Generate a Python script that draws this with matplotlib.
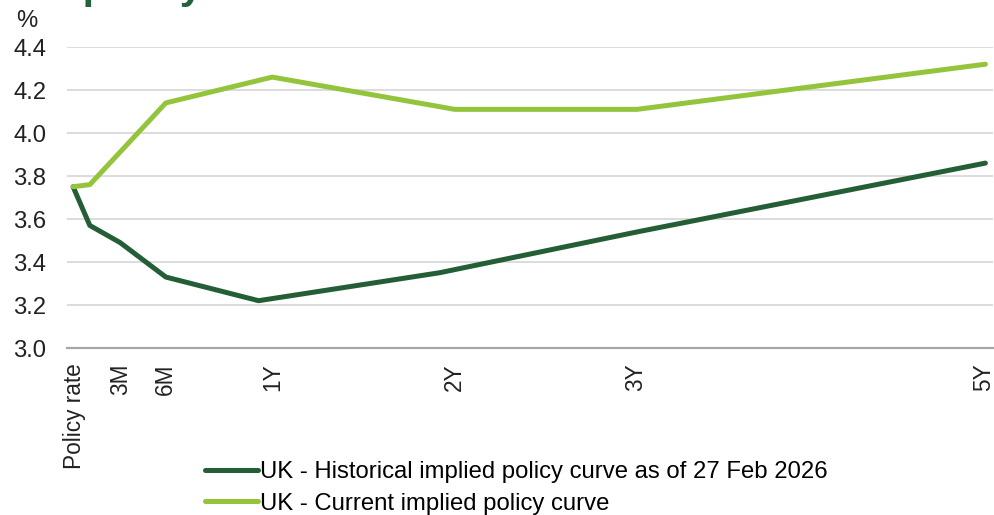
import matplotlib
matplotlib.use('Agg')
import matplotlib.pyplot as plt

plt.rcParams['font.family'] = ['Liberation Sans', 'DejaVu Sans']

# x in months from today
hist_x = [0, 1.1, 3.1, 6.1, 12.2, 24.1, 37.1, 60]
hist_y = [3.75, 3.57, 3.49, 3.33, 3.22, 3.35, 3.54, 3.86]

curr_x = [0, 1.1, 6.1, 13.1, 25.1, 37.1, 60]
curr_y = [3.75, 3.76, 4.14, 4.26, 4.11, 4.11, 4.32]

tick_pos = [0.1, 3.1, 6.1, 13.1, 25.1, 37.0, 59.9]
tick_labels = ['Policy rate', '3M', '6M', '1Y', '2Y', '3Y', '5Y']
y_ticks = [3.0, 3.2, 3.4, 3.6, 3.8, 4.0, 4.2, 4.4]

dark = '#245E37'
light = '#94C43B'
fs = 17.2

fig = plt.figure(figsize=(9.95, 5.15), dpi=100)
ax = fig.add_axes([67/995, 1-348/515, 926/995, 301/515])

l1, = ax.plot(hist_x, hist_y, color=dark, lw=3.6, solid_capstyle='round', zorder=3,
              label='UK - Historical implied policy curve as of 27 Feb 2026')
l2, = ax.plot(curr_x, curr_y, color=light, lw=3.6, solid_capstyle='round', zorder=3,
              label='UK - Current implied policy curve')

ax.set_ylim(3.0, 4.4)
ax.set_xlim(-0.4, 60.5)
ax.set_yticks(y_ticks)
ax.set_yticklabels(['%.1f' % v for v in y_ticks])
ax.set_xticks(tick_pos)
ax.set_xticklabels(tick_labels, rotation=90, va='top', ha='center')

ax.tick_params(axis='y', length=0, pad=15, labelsize=fs, labelcolor='#222222')
ax.tick_params(axis='x', length=0, pad=11, labelsize=16.3, labelcolor='#222222')

ax.grid(axis='y', color='#D9D9D9', lw=1.3, zorder=0)
ax.set_axisbelow(True)
for s in ['top', 'right', 'left']:
    ax.spines[s].set_visible(False)
ax.spines['bottom'].set_color('#A6A6A6')
ax.spines['bottom'].set_linewidth(1.6)
ax.spines['bottom'].set_zorder(4)

# title cut off at the top edge
fig.text(11/995, 1 + 2/515, 'UK policy rate', fontsize=30, fontweight='bold',
         color='#22613A', ha='left', va='baseline')
fig.text(16/995, 1-21/515, '%', fontsize=fs, color='#222222', ha='left', va='center')

fig.legend(handles=[l1, l2], loc='upper left', bbox_to_anchor=(205/995, 1-461/515),
           frameon=False, fontsize=fs, handlelength=2.2, handletextpad=0.1,
           labelspacing=0.4, borderpad=0, borderaxespad=0)

plt.savefig('out.png', dpi=100)
